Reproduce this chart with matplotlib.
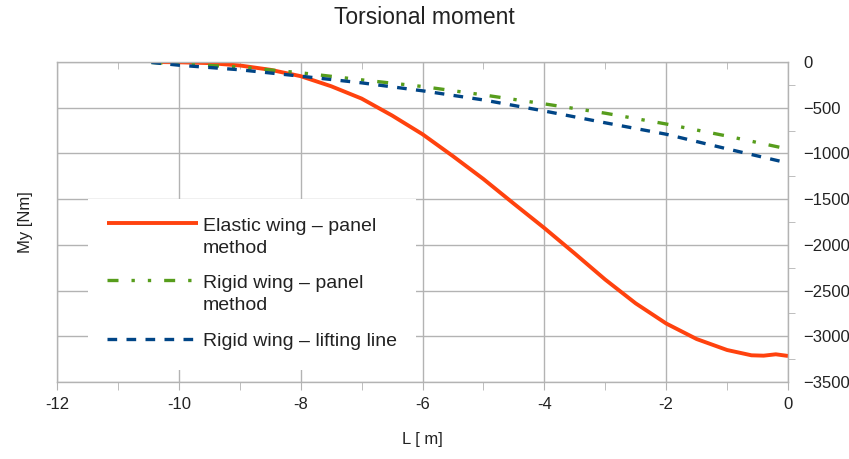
import matplotlib
matplotlib.use("Agg")
import matplotlib.pyplot as plt
from matplotlib.ticker import MultipleLocator, NullFormatter
from matplotlib.legend_handler import HandlerLine2D

plt.rcParams['font.family'] = ['Liberation Sans', 'DejaVu Sans']

# ---- data ----
elastic_x = [-10.4, -10.0, -9.5, -9.0, -8.5, -8.0, -7.5, -7.0, -6.5, -6.0, -5.5, -5.0,
             -4.5, -4.0, -3.5, -3.0, -2.5, -2.0, -1.5, -1.0, -0.6, -0.4, -0.2, 0.0]
elastic_y = [0, -3, -12, -38, -85, -155, -265, -400, -585, -790, -1030, -1280,
             -1550, -1816, -2095, -2380, -2640, -2860, -3030, -3150, -3208, -3212, -3197, -3215]

rigid_panel_x = [-10.45, -10.0, -9.0, -8.0, -7.0, -6.0, -5.0, -4.0, -3.0, -2.0, -1.0, 0.0]
rigid_panel_y = [-5, -22, -55, -118, -195, -268, -360, -458, -560, -678, -810, -952]

rigid_ll_x = [-10.45, -10.0, -9.0, -8.0, -7.0, -6.0, -5.0, -4.0, -3.0, -2.0, -1.0, 0.0]
rigid_ll_y = [-5, -35, -85, -155, -228, -315, -415, -536, -665, -790, -950, -1105]

labels = ["Elastic wing – panel\nmethod", "Rigid wing – panel\nmethod", "Rigid wing – lifting line"]
title = "Torsional moment"
xlabel = "L [ m]"
ylabel = "My [Nm]"

W, H = 849, 459
fig = plt.figure(figsize=(W / 100, H / 100), dpi=100)
ax = fig.add_axes([57 / W, 1 - 382 / H, (788 - 57) / W, (382 - 62) / H])

grid_c = '#b3b3b3'
text_c = '#222222'
l1, = ax.plot(elastic_x, elastic_y, color='#ff420e', lw=2.8, solid_capstyle='butt')
l2, = ax.plot(rigid_panel_x, rigid_panel_y, color='#579d1c', lw=2.4,
              dashes=(3.3, 3.9, 1.0, 3.9, 1.0, 3.9), dash_capstyle='butt')
l3, = ax.plot(rigid_ll_x, rigid_ll_y, color='#004586', lw=2.4,
              dashes=(2.9, 2.8), dash_capstyle='butt')

ax.set_xlim(-12, 0)
ax.set_ylim(-3500, 0)
ax.xaxis.set_major_locator(MultipleLocator(2))
ax.xaxis.set_minor_locator(MultipleLocator(1))
ax.yaxis.set_major_locator(MultipleLocator(500))
ax.yaxis.set_minor_locator(MultipleLocator(250))
ax.grid(True, which='major', color=grid_c, lw=1.0)
ax.set_axisbelow(True)
for s in ax.spines.values():
    s.set_color(grid_c)
    s.set_linewidth(1.0)

ax.yaxis.tick_right()
ax.yaxis.set_label_position('left')
ax.tick_params(axis='y', which='major', length=0, pad=11, labelsize=12, colors=grid_c, labelcolor=text_c)
ax.tick_params(axis='y', which='minor', length=5, direction='out', colors=grid_c, right=True, left=False)
ax.tick_params(axis='x', which='both', direction='out', length=6, colors=grid_c, labelcolor=text_c,
               top=False, bottom=True)
ax.tick_params(axis='x', which='major', labelsize=12, pad=5)

# inward minor ticks along the top edge
top = ax.secondary_xaxis('top')
top.xaxis.set_major_locator(MultipleLocator(2))
top.xaxis.set_minor_locator(MultipleLocator(1))
top.xaxis.set_major_formatter(NullFormatter())
top.tick_params(which='major', length=0)
top.tick_params(which='minor', direction='in', length=5, color=grid_c)
top.spines['top'].set_visible(False)

ax.set_xticklabels([f"{int(v)}" for v in ax.get_xticks()])
ax.set_xlabel(xlabel, fontsize=12, color=text_c, labelpad=14)
ax.set_ylabel(ylabel, fontsize=12, color=text_c, labelpad=17)
fig.suptitle(title, fontsize=16.5, color=text_c, y=1 - 17 / H, va='center')


class RaisedHandler(HandlerLine2D):
    def __init__(self, shift=0.0, **kw):
        super().__init__(**kw)
        self.shift = shift

    def create_artists(self, legend, orig_handle, xdescent, ydescent, width, height, fontsize, trans):
        arts = super().create_artists(legend, orig_handle, xdescent, ydescent, width, height, fontsize, trans)
        for a in arts:
            y = a.get_ydata()
            a.set_ydata([v + self.shift * fontsize for v in y])
        return arts


leg = ax.legend([l1, l2, l3], labels, loc='upper left',
                bbox_to_anchor=((88 - 57) / 731, (382 - 199) / 320),
                borderaxespad=0, fontsize=14, frameon=True, fancybox=False,
                facecolor='white', edgecolor='none', framealpha=1.0,
                borderpad=1.0, handlelength=4.64, handletextpad=0.26, labelspacing=0.95,
                handler_map={l1: RaisedHandler(shift=0.75), l2: RaisedHandler(shift=0.75),
                             l3: RaisedHandler(shift=0.0)})
for t in leg.get_texts():
    t.set_color(text_c)
    t.set_linespacing(1.35)

fig.savefig('out.png', dpi=100)
